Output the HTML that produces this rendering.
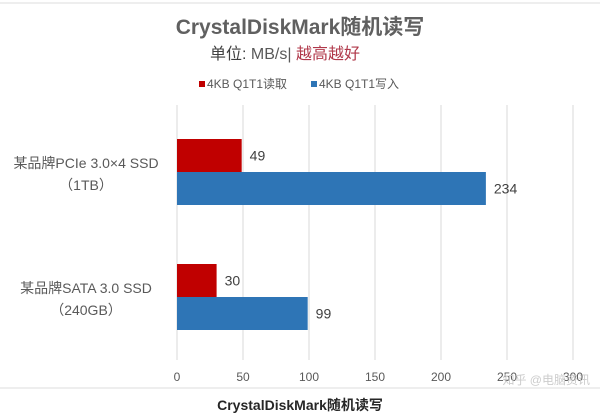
<!DOCTYPE html>
<html><head><meta charset="utf-8"><style>
body{margin:0;background:#fff;}
svg{display:block;font-family:"Liberation Sans","Noto Sans CJK SC",sans-serif;}
</style></head><body>
<svg width="600" height="420" viewBox="0 0 600 420">
<line x1="0" y1="3" x2="600" y2="3" stroke="#ddd"/>
<text x="300" y="34" text-anchor="middle" font-size="21" font-weight="bold" fill="#606060">CrystalDiskMark随机读写</text>
<text x="210" y="59" font-size="16" fill="#404040">单位: <tspan fill="#595959">MB/s|</tspan> <tspan fill="#b0384a">越高越好</tspan></text>
<g>
<rect x="199" y="81" width="6" height="6" fill="#c00000"/>
<text x="207" y="88" font-size="12" fill="#595959">4KB Q1T1读取</text>
<rect x="311" y="81" width="6" height="6" fill="#2e75b6"/>
<text x="319" y="88" font-size="12" fill="#595959">4KB Q1T1写入</text>
</g>
<g id="plot"></g>
<line x1="0" y1="388" x2="600" y2="388" stroke="#ddd"/>
<text x="300" y="410" text-anchor="middle" font-size="14" font-weight="bold" fill="#262626">CrystalDiskMark随机读写</text>
<text x="590" y="384" text-anchor="end" font-size="12" fill="#ccc">知乎 @电脑资讯</text>
</svg>
<script>
const categories=[["某品牌PCIe 3.0×4 SSD","（1TB）"],["某品牌SATA 3.0 SSD","（240GB）"]];
const readVals=[49,30];
const writeVals=[234,99];
const ticks=[0,50,100,150,200,250,300];
const NS="http://www.w3.org/2000/svg";
const g=document.getElementById("plot");
const x0=177,x1=573,vmax=300;
const xs=v=>x0+v/vmax*(x1-x0);
const groupTop=[139,264];
function mk(t,a){const e=document.createElementNS(NS,t);for(const k in a)e.setAttribute(k,a[k]);g.appendChild(e);return e;}
ticks.forEach(t=>{
 const l=mk("line",{x1:xs(t),x2:xs(t),y1:105,y2:360,stroke:"#d9d9d9"});
 
 
 const tx=mk("text",{x:xs(t),y:381,"text-anchor":"middle","font-size":"12",fill:"#595959"});
 tx.textContent=t;
 
 
});
categories.forEach((c,i)=>{
 const y=groupTop[i],h=33;
 const r=mk("rect",{x:x0,y:y,width:xs(readVals[i])-x0,height:h,fill:"#c00000"});
 
 
 const b=mk("rect",{x:x0,y:y+h,width:xs(writeVals[i])-x0,height:h,fill:"#2e75b6"});
 
 
 const lr=mk("text",{x:xs(readVals[i])+8,y:y+h/2+5,"font-size":"14",fill:"#404040"});
 lr.textContent=readVals[i];
 
 
 const lw=mk("text",{x:xs(writeVals[i])+8,y:y+h*1.5+5,"font-size":"14",fill:"#404040"});
 lw.textContent=writeVals[i];
 
 
 const c1=mk("text",{x:86,y:y+29,"text-anchor":"middle","font-size":"14",fill:"#595959"});
 c1.textContent=c[0];
 
 
 const c2=mk("text",{x:86,y:y+51,"text-anchor":"middle","font-size":"14",fill:"#595959"});
 c2.textContent=c[1];
 
 
});
</script>
</body></html>
